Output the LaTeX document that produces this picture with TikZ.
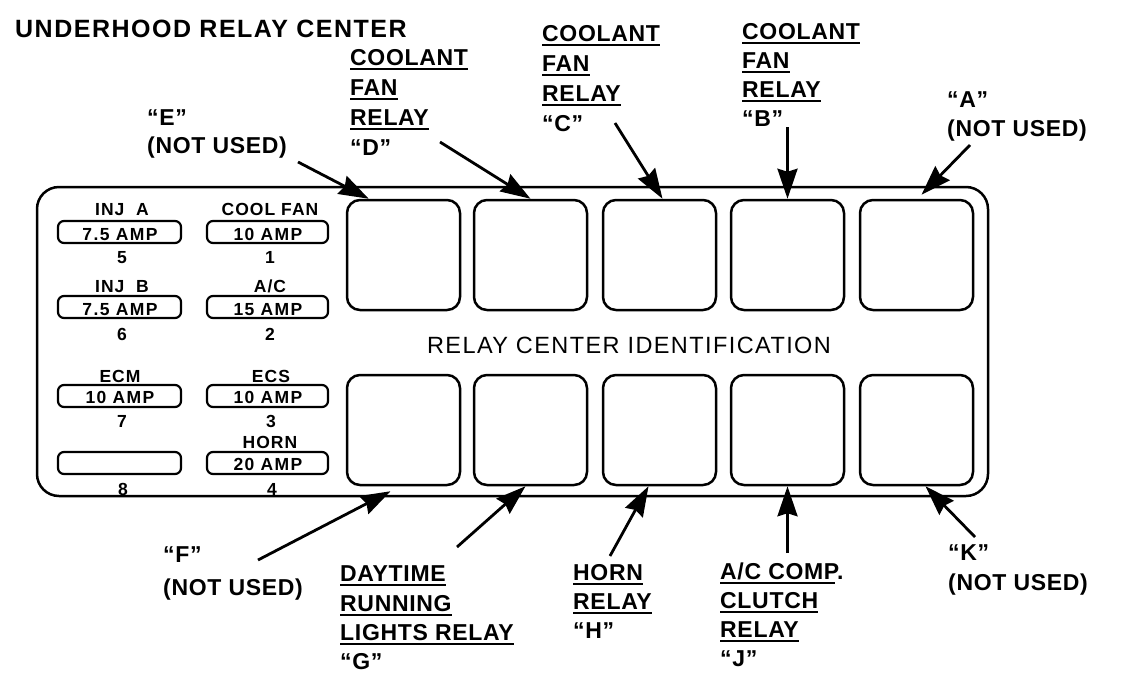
\documentclass[tikz,border=0pt]{standalone}
\usepackage{fontspec}
\setmainfont{Liberation Sans}
\newfontfamily\labff[LetterSpace=3]{Liberation Sans}
\newfontfamily\titleff[LetterSpace=6]{Liberation Sans}
\newfontfamily\fuseff[LetterSpace=6]{Liberation Sans}
\newfontfamily\ampff[LetterSpace=8]{Liberation Sans}
\newfontfamily\rcff[LetterSpace=6]{Liberation Sans}
\usetikzlibrary{arrows.meta}
\newcommand\labfont{\labff\bfseries\fontsize{23}{23}\selectfont}
\newcommand\titlefont{\titleff\bfseries\fontsize{25}{25}\selectfont}
\newcommand\fusefont{\fuseff\bfseries\fontsize{17.5}{17.5}\selectfont}
\newcommand\ampfont{\ampff\bfseries\fontsize{17.5}{17.5}\selectfont}
\newcommand\rcfont{\rcff\fontsize{23.5}{23.5}\selectfont}
\tikzset{
  lab/.style={font=\labfont, inner sep=0pt, anchor=base west},
  ttl/.style={font=\titlefont, inner sep=0pt, anchor=base west},
  flab/.style={font=\fusefont, inner sep=0pt, anchor=base},
  amp/.style={font=\ampfont, inner sep=0pt, anchor=base},
  relay/.style={draw, line width=2.5pt, rounded corners=13pt, minimum width=113pt, minimum height=110pt, inner sep=0pt},
  fuseL/.style={draw, line width=2.2pt, rounded corners=6pt, minimum width=123pt, minimum height=22pt, inner sep=0pt},
  fuseR/.style={draw, line width=2.2pt, rounded corners=6pt, minimum width=121pt, minimum height=22pt, inner sep=0pt},
  panelbox/.style={draw, line width=2.5pt, rounded corners=22pt, minimum width=951pt, minimum height=309pt, inner sep=0pt},
  ulline/.style={line width=2pt},
  arr/.style={line width=2.8pt, -{Stealth[length=30pt,width=20pt,inset=3pt]}},
}
\newcommand\ulab[4]{%
  \node[lab] (#1) at (#2,#3) {#4};
  \draw[ulline] ([yshift=-4pt]#1.base west) -- ([yshift=-4pt]#1.base east);
}
\begin{document}
\begin{tikzpicture}[x=1pt,y=-1pt]
\useasboundingbox (0,0) rectangle (1136,678);

% title
\node[ttl] (title) at (15,37) {UNDERHOOD RELAY CENTER};

% panel
\node[panelbox] (panel) at (512.5,341.5) {};

% relays
\node[relay] (rE) at (403.5,255) {};
\node[relay] (rD) at (530.5,255) {};
\node[relay] (rC) at (659.5,255) {};
\node[relay] (rB) at (787.5,255) {};
\node[relay] (rA) at (916.5,255) {};
\node[relay] (rF) at (403.5,430) {};
\node[relay] (rG) at (530.5,430) {};
\node[relay] (rH) at (659.5,430) {};
\node[relay] (rJ) at (787.5,430) {};
\node[relay] (rK) at (916.5,430) {};

\node[font=\rcfont, inner sep=0pt, anchor=base] (rci) at (629,353) {RELAY CENTER IDENTIFICATION};

% fuses left column
\node[flab] (l5) at (122,215) {INJ\ \ A};
\node[fuseL] (f5) at (119.5,232) {};
\node[amp] (f5t) at (120,240) {7.5 AMP};
\node[flab] (n5) at (122,263) {5};
\node[flab] (l6) at (122,292) {INJ\ \ B};
\node[fuseL] (f6) at (119.5,307) {};
\node[amp] (f6t) at (120,315) {7.5 AMP};
\node[flab] (n6) at (122,340) {6};
\node[flab] (l7) at (120,382) {ECM};
\node[fuseL] (f7) at (119.5,396) {};
\node[amp] (f7t) at (120,403) {10 AMP};
\node[flab] (n7) at (122,427) {7};
\node[fuseL] (f8) at (119.5,463) {};
\node[flab] (n8) at (123,495) {8};

% fuses right column
\node[flab] (l1) at (270,215) {COOL FAN};
\node[fuseR] (f1) at (267.5,232) {};
\node[amp] (f1t) at (268,240) {10 AMP};
\node[flab] (n1) at (270,263) {1};
\node[flab] (l2) at (270,292) {A/C};
\node[fuseR] (f2) at (267.5,307) {};
\node[amp] (f2t) at (268,315) {15 AMP};
\node[flab] (n2) at (270,340) {2};
\node[flab] (l3) at (271,382) {ECS};
\node[fuseR] (f3) at (267.5,396) {};
\node[amp] (f3t) at (268,403) {10 AMP};
\node[flab] (n3) at (271,427) {3};
\node[flab] (l4) at (270,448) {HORN};
\node[fuseR] (f4) at (267.5,463) {};
\node[amp] (f4t) at (268,470) {20 AMP};
\node[flab] (n4) at (272,495) {4};

% top labels
\node[lab] (eq) at (147,125) {“E”};
\node[lab] (enu) at (147,153) {(NOT USED)};

\ulab{d1}{350}{65}{COOLANT}
\ulab{d2}{350}{95}{FAN}
\ulab{d3}{350}{125}{RELAY}
\node[lab] (d4) at (350,155) {“D”};

\ulab{c1}{542}{41}{COOLANT}
\ulab{c2}{542}{71}{FAN}
\ulab{c3}{542}{101}{RELAY}
\node[lab] (c4) at (542,131) {“C”};

\ulab{b1}{742}{39}{COOLANT}
\ulab{b2}{742}{68}{FAN}
\ulab{b3}{742}{97}{RELAY}
\node[lab] (b4) at (742,126) {“B”};

\node[lab] (aq) at (947,107) {“A”};
\node[lab] (anu) at (947,136) {(NOT USED)};

% bottom labels
\node[lab] (fq) at (163,562) {“F”};
\node[lab] (fnu) at (163,595) {(NOT USED)};

\ulab{g1}{340}{581}{DAYTIME}
\ulab{g2}{340}{611}{RUNNING}
\ulab{g3}{340}{640}{LIGHTS RELAY}
\node[lab] (g4) at (340,669) {“G”};

\ulab{h1}{573}{580}{HORN}
\ulab{h2}{573}{609}{RELAY}
\node[lab] (h3) at (573,638) {“H”};

\node[lab] (j1) at (720,579) {A/C COMP.};
\draw[ulline] ([yshift=-4pt]j1.base west) -- ([yshift=-4pt,xshift=-9pt]j1.base east);
\ulab{j2}{720}{608}{CLUTCH}
\ulab{j3}{720}{637}{RELAY}
\node[lab] (j4) at (720,666) {“J”};

\node[lab] (kq) at (948,560) {“K”};
\node[lab] (knu) at (948,590) {(NOT USED)};

% arrow start points
\coordinate (sE) at (298,162);
\coordinate (sD) at (440,142);
\coordinate (sC) at (615,123);
\coordinate (sB) at (787.5,127);
\coordinate (sA) at (970,145);
\coordinate (sF) at (258,560);
\coordinate (sG) at (457,547);
\coordinate (sH) at (610,556);
\coordinate (sJ) at (787.5,553);
\coordinate (sK) at (975,537);

\draw[arr] (sE) -- ([xshift=23pt]rE.north west);
\draw[arr] (sD) -- (rD.north);
\draw[arr] (sC) -- ([xshift=3pt]rC.north);
\draw[arr] (sB) -- (rB.north);
\draw[arr] (sA) -- ([xshift=5pt,yshift=4pt]rA.north);
\draw[arr] (sF) -- ([xshift=-13pt,yshift=-5pt]rF.south);
\draw[arr] (sG) -- ([xshift=-5pt]rG.south);
\draw[arr] (sH) -- ([xshift=-11pt]rH.south);
\draw[arr] (sJ) -- (rJ.south);
\draw[arr] (sK) -- ([xshift=9pt]rK.south);
\end{tikzpicture}
\end{document}
